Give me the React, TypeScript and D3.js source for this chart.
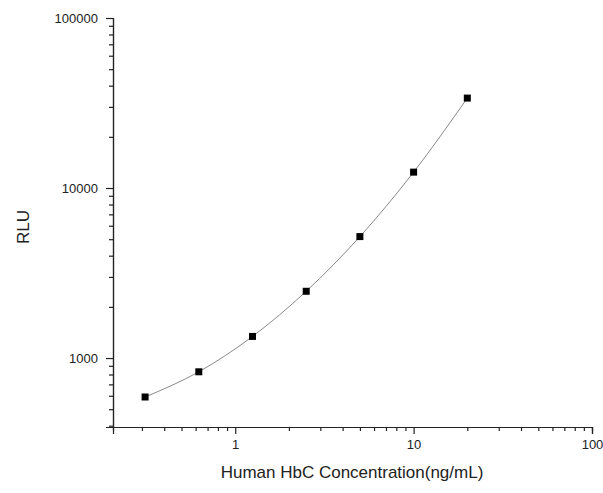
import { useEffect, useRef } from "react";
import * as d3 from "d3";

// standard curve data
const concentrations = [0.3125, 0.625, 1.25, 2.5, 5, 10, 20];
const rlu = [590, 830, 1340, 2470, 5180, 12400, 33800];

const xMajorTicks = [1, 10, 100];
const yMajorTicks = [1000, 10000, 100000];

const xTitle = "Human HbC Concentration(ng/mL)";
const yTitle = "RLU";

const FONT = "'Liberation Sans', Arial, sans-serif";

export default function App() {
  const ref = useRef<SVGSVGElement>(null);

  useEffect(() => {
    if (!ref.current) return;
    const svg = d3.select(ref.current);
    svg.selectAll("*").remove();

    const W = 603;
    const H = 493;
    const m = { top: 18, right: 11, bottom: 66, left: 113 };
    const w = W - m.left - m.right;
    const h = H - m.top - m.bottom;

    svg.attr("width", W).attr("height", H);

    const x = d3.scaleLog().domain([0.2065, 100]).range([0, w]);
    const y = d3.scaleLog().domain([393, 100000]).range([h, 0]);

    const g = svg.append("g").attr("transform", `translate(${m.left},${m.top})`);

    // minor ticks
    const xMinor: number[] = [];
    [0.1, 1, 10].forEach((d) => {
      for (let k = 2; k <= 9; k++) {
        const v = d * k;
        if (v >= 0.2065 && v < 100) xMinor.push(v);
      }
    });
    const yMinor: number[] = [];
    [100, 1000, 10000].forEach((d) => {
      for (let k = 2; k <= 9; k++) {
        const v = d * k;
        if (v >= 393 && v < 100000) yMinor.push(v);
      }
    });

    const style = (a: d3.Selection<SVGGElement, unknown, null, undefined>) => {
      a.select(".domain").attr("stroke", "#222").attr("stroke-width", 1.2);
      a.selectAll("line").attr("stroke", "#222").attr("stroke-width", 1.2);
      a.selectAll("text")
        .attr("font-size", 13)
        .attr("font-family", FONT)
        .attr("fill", "#222");
    };

    // x axis
    g.append("g")
      .attr("transform", `translate(0,${h})`)
      .call(d3.axisBottom(x).tickValues(xMinor).tickSize(4).tickFormat(() => ""))
      .call(style);
    g.append("g")
      .attr("transform", `translate(0,${h})`)
      .call(
        d3
          .axisBottom(x)
          .tickValues(xMajorTicks)
          .tickSize(7)
          .tickPadding(6)
          .tickFormat((d) => String(d))
      )
      .call(style);

    // y axis
    g.append("g")
      .call(d3.axisLeft(y).tickValues(yMinor).tickSize(4).tickFormat(() => ""))
      .call(style);
    g.append("g")
      .call(
        d3
          .axisLeft(y)
          .tickValues(yMajorTicks)
          .tickSize(7)
          .tickPadding(8)
          .tickFormat((d) => String(d))
      )
      .call(style);

    // titles
    g.append("text")
      .attr("x", 352 - m.left)
      .attr("y", h + 51)
      .attr("text-anchor", "middle")
      .attr("font-size", 17)
      .attr("font-family", FONT)
      .attr("fill", "#222")
      .text(xTitle);
    g.append("text")
      .attr("transform", "rotate(-90)")
      .attr("x", -(227 - m.top))
      .attr("y", -84)
      .attr("text-anchor", "middle")
      .attr("font-size", 17)
      .attr("font-family", FONT)
      .attr("fill", "#222")
      .text(yTitle);

    // fitted curve
    const pts: [number, number][] = concentrations.map((c, i) => [c, rlu[i]]);
    const line = d3
      .line<[number, number]>()
      .x((d) => x(d[0]))
      .y((d) => y(d[1]))
      .curve(d3.curveMonotoneX);
    g.append("path")
      .datum(pts)
      .attr("fill", "none")
      .attr("stroke", "#8a8a8a")
      .attr("stroke-width", 1)
      .attr("d", line);

    // points
    g.selectAll("rect.pt")
      .data(pts)
      .join("rect")
      .attr("class", "pt")
      .attr("x", (d) => x(d[0]) - 3.5)
      .attr("y", (d) => y(d[1]) - 3.5)
      .attr("width", 7)
      .attr("height", 7)
      .attr("fill", "#000");
  }, []);

  return (
    <svg
      ref={ref}
      style={{ position: "absolute", left: 0, top: 0, display: "block", background: "#fff" }}
    />
  );
}
